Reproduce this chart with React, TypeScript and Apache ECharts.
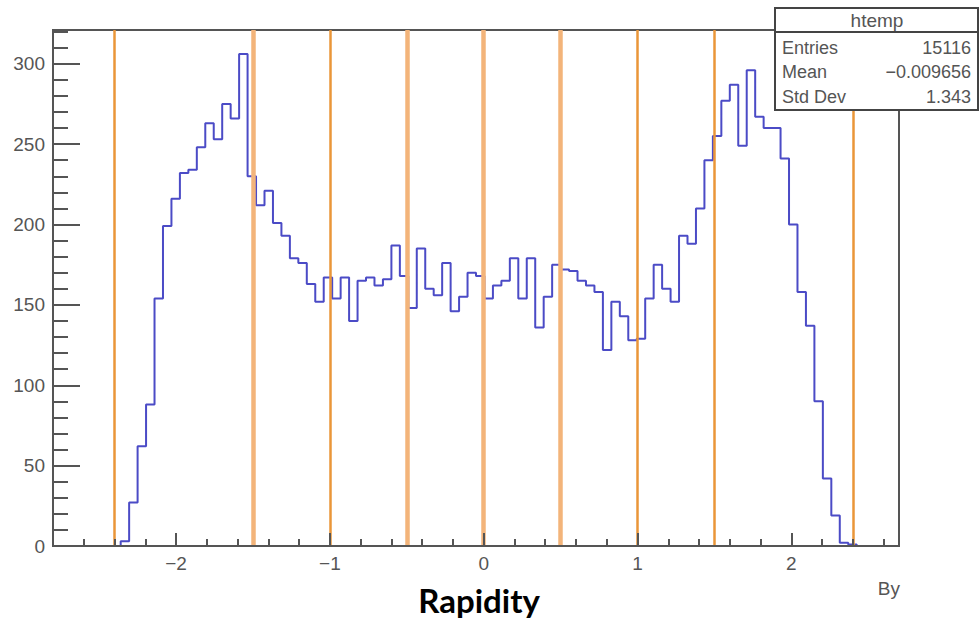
import React, { useEffect, useRef } from "react";
import * as echarts from "echarts";

// Histogram definition (ROOT default 100 bins)
const binLow = -2.8;
const binHigh = 2.7;
const counts = [
  0, 0, 0, 0, 0, 0, 0, 0, 3, 27,
  62, 88, 154, 199, 216, 232, 234, 248, 263, 253,
  275, 266, 306, 230, 212, 221, 201, 193, 179, 176,
  163, 152, 167, 154, 167, 140, 165, 167, 162, 166,
  187, 168, 148, 185, 160, 156, 176, 146, 155, 170,
  168, 154, 162, 165, 179, 154, 179, 136, 155, 175,
  172, 171, 165, 162, 158, 122, 152, 143, 128, 129,
  154, 175, 160, 152, 193, 188, 210, 240, 255, 277,
  287, 249, 296, 267, 260, 260, 241, 200, 158, 137,
  90, 42, 19, 2, 1, 0, 0, 0, 0, 0,
];

const xMajor = [-2, -1, 0, 1, 2];
const xMinor = [-2.6, -2.4, -2.2, -1.8, -1.6, -1.4, -1.2, -0.8, -0.6, -0.4, -0.2, 0.2, 0.4, 0.6, 0.8, 1.2, 1.4, 1.6, 1.8, 2.2, 2.4, 2.6];
const yMax = 321;
const yMajor = [0, 50, 100, 150, 200, 250, 300];
const yMinor = [10, 20, 30, 40, 60, 70, 80, 90, 110, 120, 130, 140, 160, 170, 180, 190, 210, 220, 230, 240, 260, 270, 280, 290, 310, 320];

const thinCuts = [-2.4, -1, 1, 1.5, 2.4];
const thickCuts = [-1.5, -0.5, 0, 0.5];

const statsTitle = "htemp";
const statsRows = [
  ["Entries", "15116"],
  ["Mean", "\u22120.009656"],
  ["Std Dev", "1.343"],
];
const xTitle = "By";
const bigTitle = "Rapidity";

const AX = "#555555";
const FONT = "Liberation Sans, Arial, sans-serif";

export default function App() {
  const ref = useRef<HTMLDivElement>(null);
  useEffect(() => {
    if (!ref.current) return;
    const chart = echarts.init(ref.current, undefined, { renderer: "svg" });
    const w = (binHigh - binLow) / counts.length;
    const histData: number[][] = counts.map((c, i) => [binLow + i * w, c]);
    histData.push([binHigh, counts[counts.length - 1]]);
    const fmt = (v: number) => (v < 0 ? "\u2212" + Math.abs(v) : String(v));
    const thinStyle = { color: "#ea9638", width: 2.5, type: "solid" };
    const thickStyle = { color: "#f3b47a", width: 4.5, type: "solid" };

    const statRowY = [48, 72, 97];
    const graphics: any[] = [
      {
        type: "rect",
        z: 100,
        shape: { x: 775, y: 8, width: 203, height: 102 },
        style: { fill: "#ffffff", stroke: "#444", lineWidth: 2 },
      },
      {
        type: "line",
        z: 101,
        shape: { x1: 775, y1: 32, x2: 978, y2: 32 },
        style: { stroke: "#444", lineWidth: 2 },
      },
      {
        type: "text",
        z: 101,
        x: 877,
        y: 20,
        style: { text: statsTitle, fill: AX, font: `19px ${FONT}`, textAlign: "center", textVerticalAlign: "middle" },
      },
      {
        type: "text",
        z: 101,
        x: 900,
        y: 588,
        style: { text: xTitle, fill: AX, font: `19px ${FONT}`, textAlign: "right", textVerticalAlign: "middle" },
      },
      {
        type: "text",
        z: 101,
        x: 479,
        y: 600,
        style: { text: bigTitle, fill: "#000", font: `bold 33px Lato, "Open Sans", sans-serif`, textAlign: "center", textVerticalAlign: "middle" },
      },
    ];
    statsRows.forEach((r, i) => {
      graphics.push({
        type: "text",
        z: 101,
        x: 782,
        y: statRowY[i],
        style: { text: r[0], fill: AX, font: `18px ${FONT}`, textAlign: "left", textVerticalAlign: "middle" },
      });
      graphics.push({
        type: "text",
        z: 101,
        x: 971,
        y: statRowY[i],
        style: { text: r[1], fill: AX, font: `18px ${FONT}`, textAlign: "right", textVerticalAlign: "middle" },
      });
    });

    chart.setOption({
      animation: false,
      backgroundColor: "#ffffff",
      grid: {
        left: 53,
        right: 80,
        top: 30,
        bottom: 75,
        show: true,
        borderColor: AX,
        borderWidth: 2,
        backgroundColor: "transparent",
      },
      xAxis: [
        {
          type: "value",
          min: binLow,
          max: binHigh,
          z: 5,
          axisLine: { show: true, onZero: false, lineStyle: { color: AX, width: 2 } },
          axisTick: { show: true, inside: true, length: 13, customValues: xMajor, lineStyle: { color: AX, width: 2 } },
          axisLabel: { customValues: xMajor, formatter: fmt, color: AX, fontSize: 19, margin: 8, fontFamily: FONT },
          splitLine: { show: false },
        },
        {
          type: "value",
          min: binLow,
          max: binHigh,
          position: "bottom",
          z: 5,
          axisLine: { show: false, onZero: false },
          axisTick: { show: true, inside: true, length: 7, customValues: xMinor, lineStyle: { color: AX, width: 2 } },
          axisLabel: { show: false },
          splitLine: { show: false },
        },
      ],
      yAxis: [
        {
          type: "value",
          min: 0,
          max: yMax,
          z: 5,
          axisLine: { show: true, onZero: false, lineStyle: { color: AX, width: 2 } },
          axisTick: { show: true, inside: true, length: 27, customValues: yMajor, lineStyle: { color: AX, width: 2 } },
          axisLabel: { customValues: yMajor, color: AX, fontSize: 19, margin: 8, fontFamily: FONT },
          splitLine: { show: false },
        },
        {
          type: "value",
          min: 0,
          max: yMax,
          position: "left",
          offset: 0,
          z: 5,
          axisLine: { show: false, onZero: false },
          axisTick: { show: true, inside: true, length: 15, customValues: yMinor, lineStyle: { color: AX, width: 2 } },
          axisLabel: { show: false },
          splitLine: { show: false },
        },
      ],
      series: [
        {
          type: "line",
          xAxisIndex: 0,
          yAxisIndex: 0,
          data: histData,
          step: "end",
          showSymbol: false,
          symbol: "none",
          lineStyle: { color: "#4b4bc6", width: 2 },
          silent: true,
          markLine: {
            silent: true,
            symbol: "none",
            label: { show: false },
            data: [
              ...thinCuts.map((v) => ({ xAxis: v, lineStyle: thinStyle })),
              ...thickCuts.map((v) => ({ xAxis: v, lineStyle: thickStyle })),
            ],
          },
        },
      ],
      graphic: graphics,
    });
    return () => chart.dispose();
  }, []);
  return <div ref={ref} style={{ position: "fixed", left: 0, top: 0, width: 979, height: 621 }} />;
}
